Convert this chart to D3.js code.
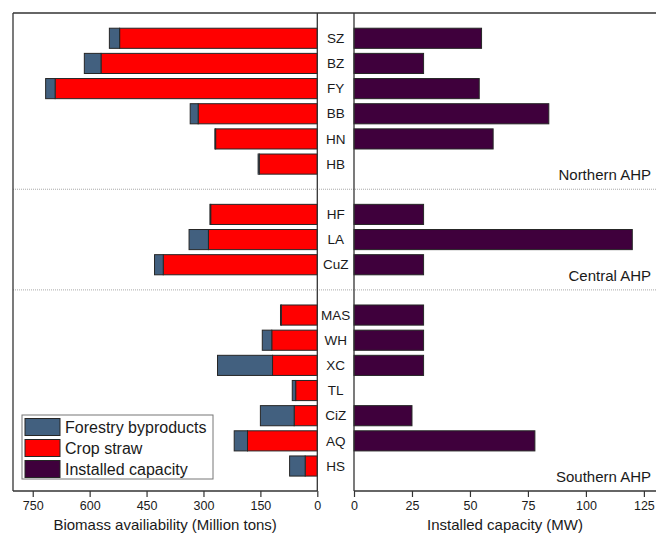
<!DOCTYPE html>
<html>
<head>
<meta charset="utf-8">
<script src="https://cdn.jsdelivr.net/npm/d3@7"></script>
<style>
  body { margin:0; background:#fff; }
  text { font-family: "Liberation Sans", Arial, sans-serif; fill:#1a1a1a; }
</style>
</head>
<body>
<div id="chart"></div>
<script>
// regions, top to bottom, grouped
const northern = ["SZ","BZ","FY","BB","HN","HB"];
const central  = ["HF","LA","CuZ"];
const southern = ["MAS","WH","XC","TL","CiZ","AQ","HS"];
const groupNames = ["Northern AHP","Central AHP","Southern AHP"];

// million tons
const cropStraw = [521,570,691,314,268,153, 281,287,406, 95,120,118,57,61,184,32];
const forestry  = [ 27, 44, 25, 21,  2,  3,   2, 51, 23,  2, 25,145, 9,89, 35,41];
// MW
const capacity  = [ 55, 30, 54, 84, 60,  0,  30,120, 30, 30, 30, 30, 0,25, 78, 0];

const leftTicks  = [750,600,450,300,150,0];
const rightTicks = [0,25,50,75,100,125];

const groups = [northern, central, southern];
const regions = [].concat(...groups);
const rows = regions.map((r, i) => ({ region:r, crop:cropStraw[i], forest:forestry[i], cap:capacity[i] }));

// slots incl. gap rows between groups
const slots = [];
groups.forEach((g, gi) => {
  if (gi > 0) slots.push("gap" + gi);
  g.forEach(r => slots.push(r));
});

const W = 656, H = 536;
const frameL = 13, frameT = 13, axisY = 491;
const midL = 317.3, midR = 354;

const svg = d3.select("#chart").append("svg").attr("width", W).attr("height", H);

const y = d3.scaleBand().domain(slots).range([25.7, 478.6]).paddingInner(0.2).paddingOuter(0.1);
const xL = d3.scaleLinear().domain([0, 802]).range([midL, frameL]);
const xR = d3.scaleLinear().domain([0, 128.5]).range([midR, W - 4]);

const cForest = "#42607f", cCrop = "#ff0000", cCap = "#3f003c", cStroke = "#262626";

// dotted group separators
slots.filter(s => s.startsWith("gap")).forEach(s => {
  const yy = y(s) + y.bandwidth()/2;
  svg.append("line").attr("x1", frameL).attr("x2", W).attr("y1", yy).attr("y2", yy)
    .attr("stroke", "#a8a8a8").attr("stroke-width", 1).attr("stroke-dasharray", "1,1");
});

// left stacked bars
const lb = svg.append("g");
lb.selectAll(".crop").data(rows).enter().append("rect")
  .attr("x", d => xL(d.crop)).attr("y", d => y(d.region))
  .attr("width", d => xL(0) - xL(d.crop)).attr("height", y.bandwidth())
  .attr("fill", cCrop).attr("stroke", cStroke).attr("stroke-width", 1);
lb.selectAll(".forest").data(rows).enter().append("rect")
  .attr("x", d => xL(d.crop + d.forest)).attr("y", d => y(d.region))
  .attr("width", d => xL(d.crop) - xL(d.crop + d.forest)).attr("height", y.bandwidth())
  .attr("fill", cForest).attr("stroke", cStroke).attr("stroke-width", 1);

// right bars
svg.append("g").selectAll("rect").data(rows.filter(d => d.cap > 0)).enter().append("rect")
  .attr("x", xR(0)).attr("y", d => y(d.region))
  .attr("width", d => xR(d.cap) - xR(0)).attr("height", y.bandwidth())
  .attr("fill", cCap).attr("stroke", cStroke).attr("stroke-width", 1);

// frame
const frame = svg.append("g").attr("stroke", "#333").attr("stroke-width", 1.3);
frame.append("line").attr("x1", frameL).attr("x2", W).attr("y1", frameT).attr("y2", frameT);
frame.append("line").attr("x1", frameL).attr("x2", frameL).attr("y1", frameT).attr("y2", axisY);
frame.append("line").attr("x1", midL).attr("x2", midL).attr("y1", frameT).attr("y2", axisY);
frame.append("line").attr("x1", midR).attr("x2", midR).attr("y1", frameT).attr("y2", axisY);

// axes
const axL = svg.append("g").attr("transform", `translate(0,${axisY})`)
  .call(d3.axisBottom(xL).tickValues(leftTicks).tickSize(6).tickPadding(4));
const axR = svg.append("g").attr("transform", `translate(0,${axisY})`)
  .call(d3.axisBottom(xR).tickValues(rightTicks).tickSize(6).tickPadding(4));
[axL, axR].forEach(a => {
  a.select(".domain").attr("stroke", "#333").attr("stroke-width", 1.3);
  a.selectAll(".tick line").attr("stroke", "#333").attr("stroke-width", 1.2);
  a.selectAll(".tick text").style("font-family", "Liberation Sans, Arial, sans-serif")
    .style("font-size", "12.5px").attr("fill", "#1a1a1a");
});
axL.select(".domain").attr("d", `M${frameL},0H${midL}`);
axR.select(".domain").attr("d", `M${midR},0H${W}`);

// region labels
svg.append("g").selectAll("text").data(rows).enter().append("text")
  .attr("x", (midL + midR)/2).attr("y", d => y(d.region) + y.bandwidth()/2)
  .attr("dy", "0.35em").attr("text-anchor", "middle")
  .style("font-size", "13.5px").text(d => d.region);

// group labels (right, bottom of each group)
groups.forEach((g, gi) => {
  const last = g[g.length - 1];
  svg.append("text").attr("x", 651).attr("y", y(last) + y.bandwidth()/2 + 11)
    .attr("dy", "0.35em").attr("text-anchor", "end")
    .style("font-size", "15px").text(groupNames[gi]);
});

// axis titles
svg.append("text").attr("x", (frameL + midL)/2).attr("y", 525).attr("dy", "0.35em")
  .attr("text-anchor", "middle").style("font-size", "15px").text("Biomass availiability (Million tons)");
svg.append("text").attr("x", (midR + W)/2).attr("y", 525).attr("dy", "0.35em")
  .attr("text-anchor", "middle").style("font-size", "15px").text("Installed capacity (MW)");

// legend
const legendItems = [
  { label:"Forestry byproducts", color:cForest },
  { label:"Crop straw", color:cCrop },
  { label:"Installed capacity", color:cCap }
];
const lg = svg.append("g").attr("transform", "translate(22,415)");
lg.append("rect").attr("width", 191).attr("height", 64).attr("fill", "#fff")
  .attr("stroke", "#777").attr("stroke-width", 1);
legendItems.forEach((it, i) => {
  const gy = 3.5 + i * 21;
  lg.append("rect").attr("x", 3).attr("y", gy).attr("width", 35).attr("height", 17)
    .attr("fill", it.color).attr("stroke", cStroke).attr("stroke-width", 1);
  lg.append("text").attr("x", 43).attr("y", gy + 8.5).attr("dy", "0.35em")
    .style("font-size", "16px").text(it.label);
});
</script>
</body>
</html>
